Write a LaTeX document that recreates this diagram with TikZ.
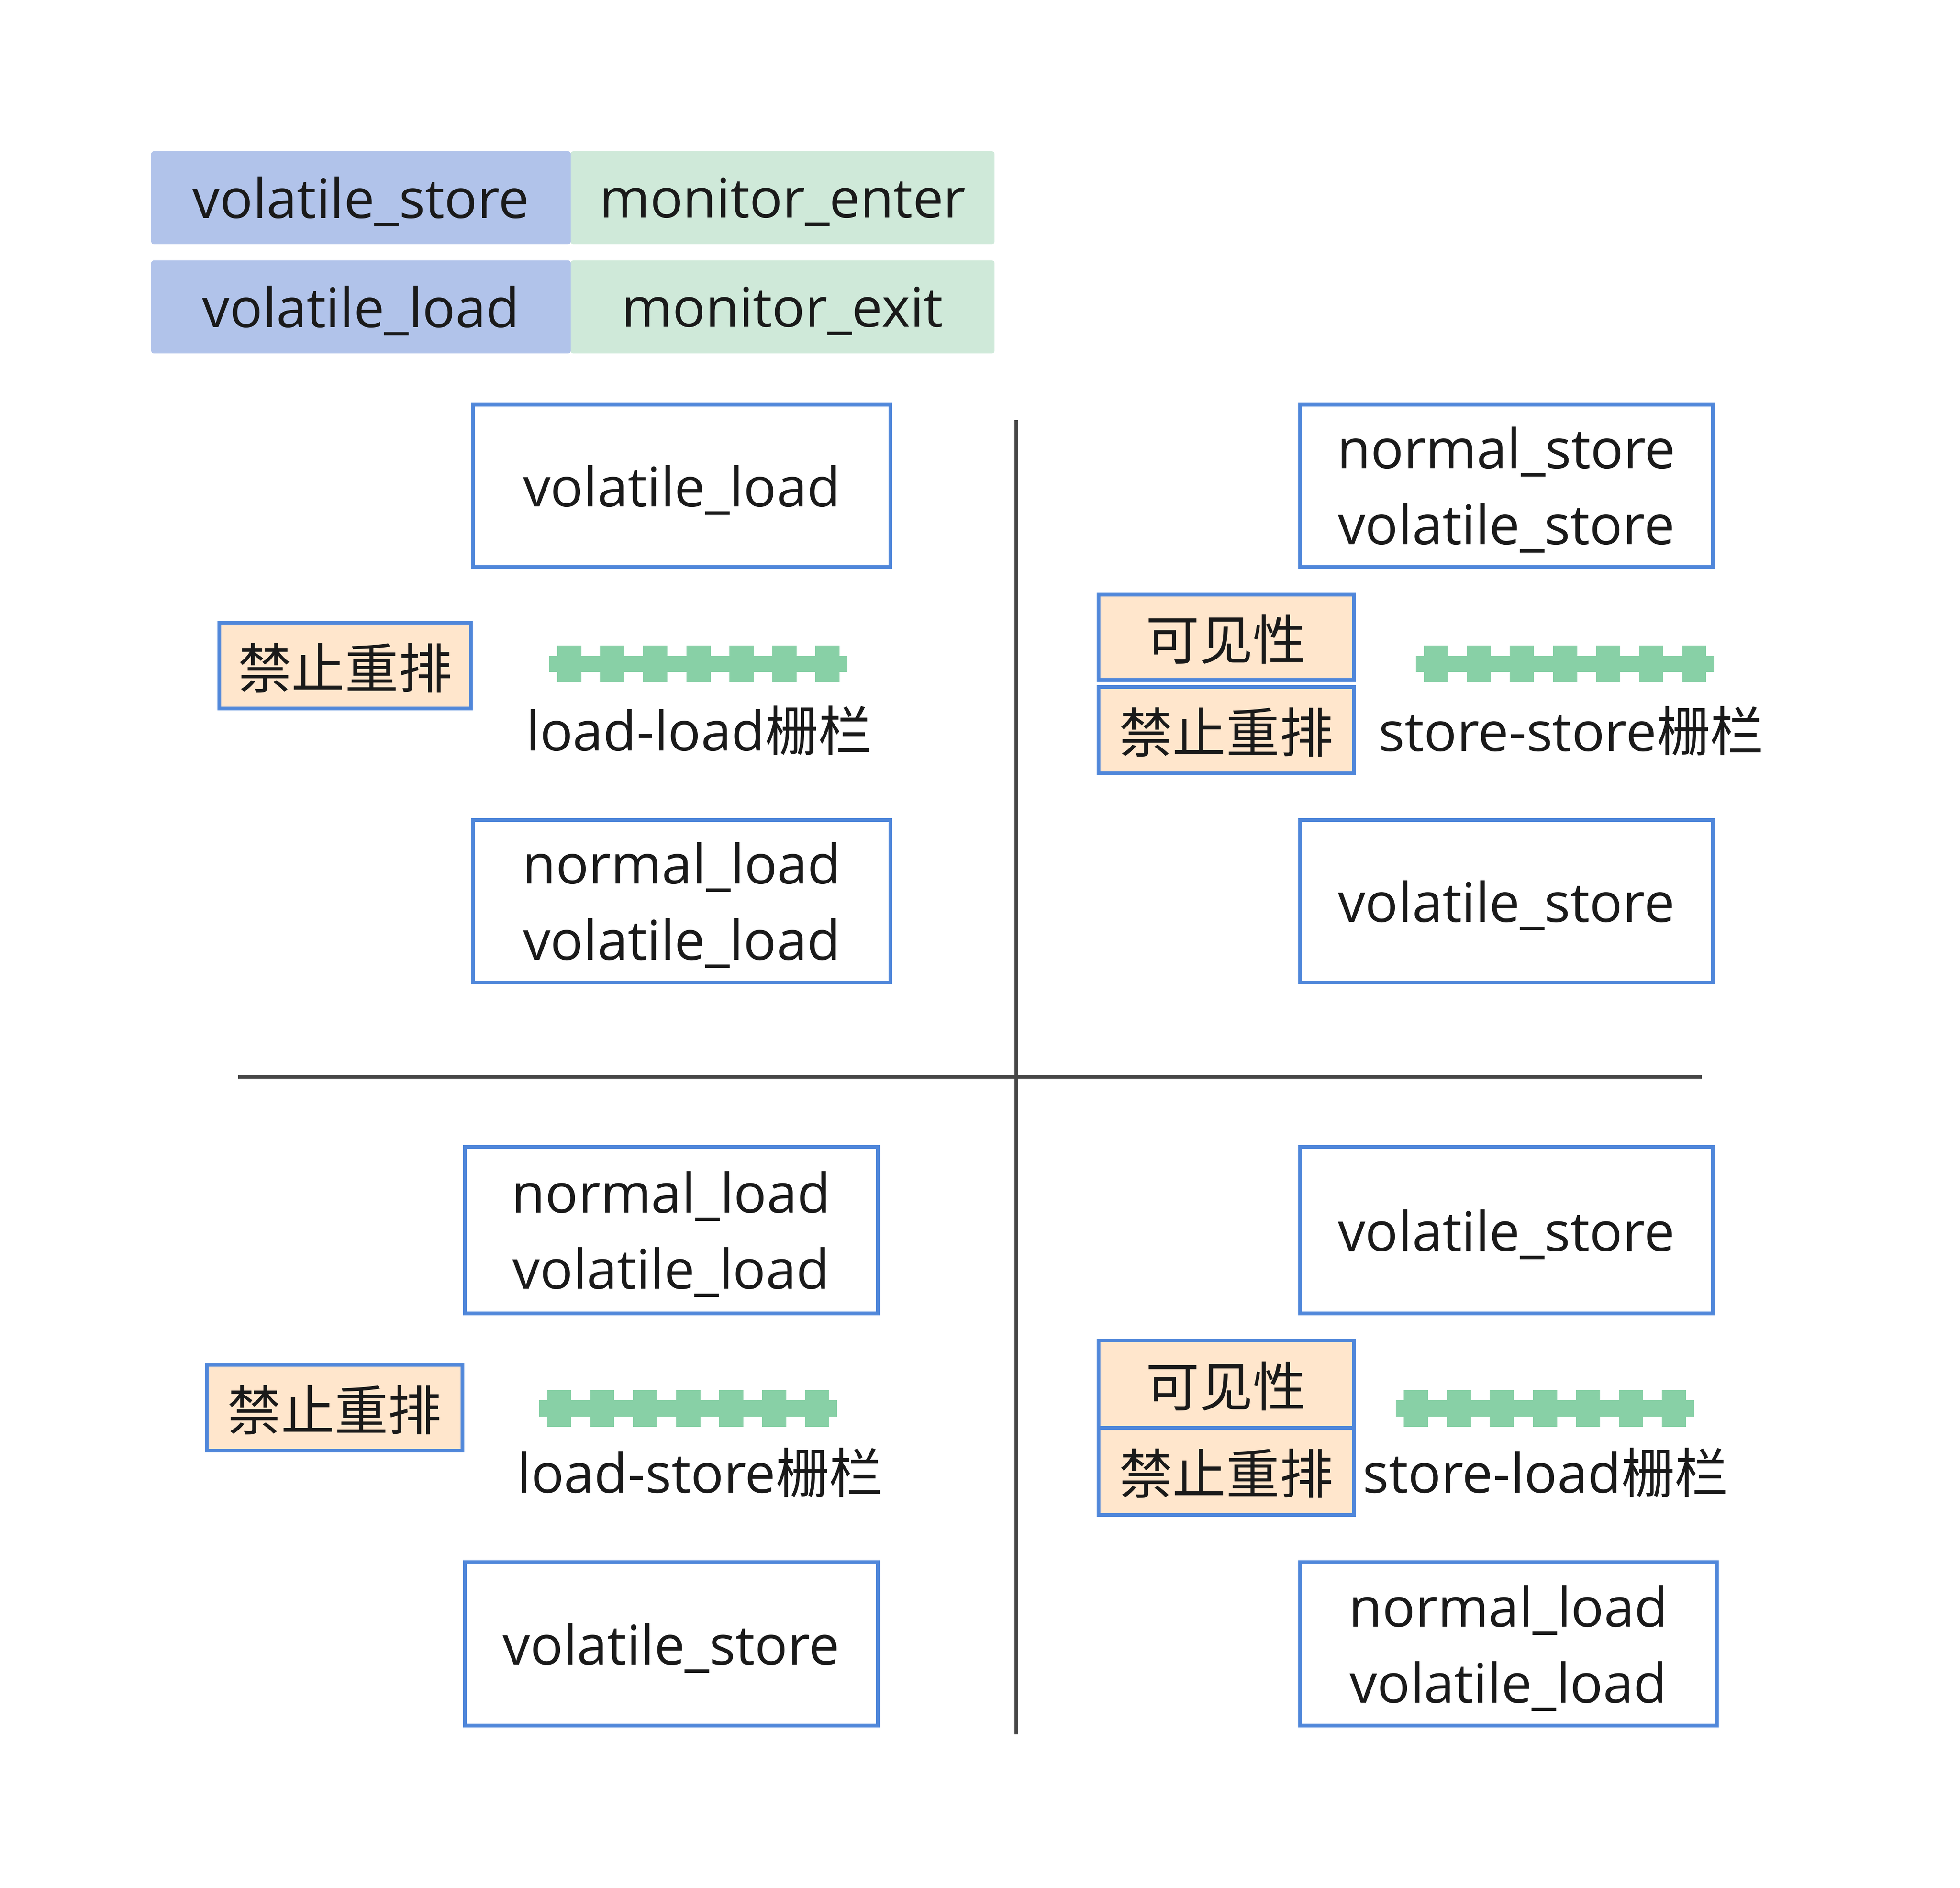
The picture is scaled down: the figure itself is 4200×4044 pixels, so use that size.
\documentclass[tikz,border=0pt]{standalone}
\usepackage{fontspec}
\setmainfont{Open Sans}
\newfontfamily\cjk[Scale=0.98]{Noto Sans CJK SC}
\definecolor{bord}{HTML}{5087DA}
\definecolor{orng}{HTML}{FFE6CC}
\definecolor{lgblue}{HTML}{B1C3EA}
\definecolor{lggreen}{HTML}{CFE9D9}
\definecolor{fgreen}{HTML}{88D0A6}
\definecolor{axiscol}{HTML}{464646}
\definecolor{ink}{HTML}{1A1A1A}
\tikzset{
  txt/.style={text=ink, font=\fontsize{23.4}{32.6}\selectfont, align=center,
    inner sep=0pt, outer sep=0pt, text depth=0pt},
  opbox/.style={txt, rectangle, draw=bord, line width=1.5pt, fill=white},
  tagbox/.style={txt, rectangle, draw=bord, line width=1.5pt, fill=orng},
  legcell/.style={txt, rectangle, rounded corners=1pt, minimum height=39.8pt},
  fencelbl/.style={txt, anchor=base},
  axisline/.style={draw=axiscol, line width=1.6pt},
  fence/.pic={
    \fill[fgreen] (-319.5,-17.5) rectangle (319.5,17.5);
    \foreach \k in {0,...,6}
      \fill[fgreen] ({-302+\k*92.2},-39.5) rectangle ({-250+\k*92.2},39.5);
  }
}
\begin{document}
\begin{tikzpicture}[x=0.2pt,y=-0.2pt]
\useasboundingbox (0,0) rectangle (4200,4044);
\fill[white] (0,0) rectangle (4200,4044);

% legend
\node[legcell, fill=lgblue, minimum width=179.8pt] (lg1) at (773.5,423.5) {volatile\_store};
\node[legcell, fill=lggreen, minimum width=181.6pt] (lg2) at (1677,423.5) {monitor\_enter};
\node[legcell, fill=lgblue, minimum width=179.8pt] (lg3) at (773.5,657.5) {volatile\_load};
\node[legcell, fill=lggreen, minimum width=181.6pt] (lg4) at (1677,657.5) {monitor\_exit};

% axes
\coordinate (vtop) at (2178,900);
\coordinate (vbot) at (2178,3716);
\coordinate (hleft) at (510,2307);
\coordinate (hright) at (3647,2307);
\draw[axisline] (vtop) -- (vbot);
\draw[axisline] (hleft) -- (hright);

% top-left quadrant
\node[opbox, minimum width=178.8pt, minimum height=69.6pt] (tla) at (1461,1041) {volatile\_load};
\node[opbox, minimum width=178.8pt, minimum height=69.6pt] (tlb) at (1461,1931) {normal\_load\\volatile\_load};
\node[tagbox, minimum width=107.8pt, minimum height=36.8pt] (tlban) at (739.5,1426) {\cjk 禁止重排};
\pic at (1496,1422) {fence};
\node[fencelbl] (tllbl) at (1498,1608) {load-load{\cjk 栅栏}};

% top-right quadrant
\node[opbox, minimum width=176.8pt, minimum height=69.6pt] (tra) at (3228,1041) {normal\_store\\volatile\_store};
\node[opbox, minimum width=176.8pt, minimum height=69.6pt] (trb) at (3228,1931) {volatile\_store};
\node[tagbox, minimum width=109.4pt, minimum height=36.6pt] (trvis) at (2627.5,1365.5) {\cjk 可见性};
\node[tagbox, minimum width=109.4pt, minimum height=37pt] (trban) at (2627.5,1564.5) {\cjk 禁止重排};
\pic at (3353,1422) {fence};
\node[fencelbl] (trlbl) at (3367,1609) {store-store{\cjk 栅栏}};

% bottom-left quadrant
\node[opbox, minimum width=177pt, minimum height=71.4pt] (bla) at (1438.5,2635.5) {normal\_load\\volatile\_load};
\node[opbox, minimum width=177pt, minimum height=70pt] (blb) at (1438.5,3522) {volatile\_store};
\node[tagbox, minimum width=109.6pt, minimum height=36.8pt] (blban) at (717,3016) {\cjk 禁止重排};
\pic at (1474,3017) {fence};
\node[fencelbl] (bllbl) at (1500,3198) {load-store{\cjk 栅栏}};

% bottom-right quadrant
\node[opbox, minimum width=176.8pt, minimum height=71.4pt] (bra) at (3228,2635.5) {volatile\_store};
\node[opbox, minimum width=178.6pt, minimum height=70pt] (brb) at (3232.5,3522) {normal\_load\\volatile\_load};
\node[tagbox, minimum width=109.4pt, minimum height=37.4pt] (brvis) at (2627.5,2965.5) {\cjk 可见性};
\node[tagbox, minimum width=109.4pt, minimum height=37.4pt] (brban) at (2627.5,3152.5) {\cjk 禁止重排};
\pic at (3310,3017) {fence};
\node[fencelbl] (brlbl) at (3312,3198) {store-load{\cjk 栅栏}};
\end{tikzpicture}
\end{document}
